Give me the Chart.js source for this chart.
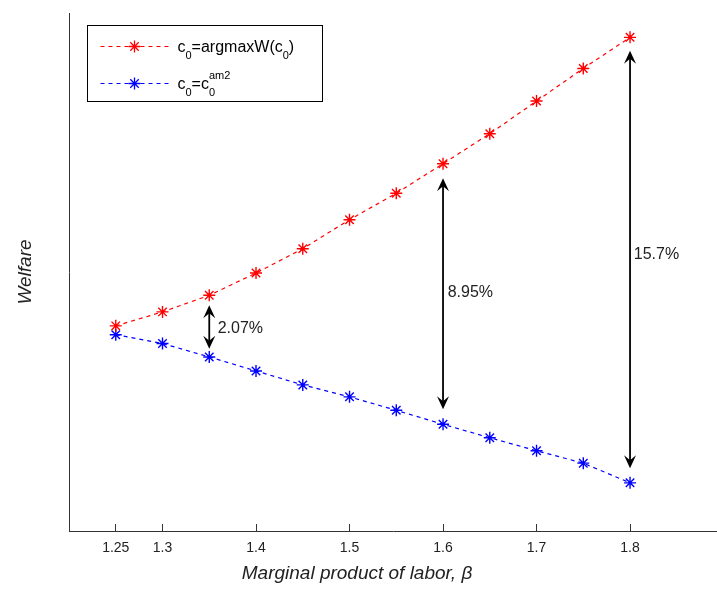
<!DOCTYPE html>
<html><head><meta charset="utf-8">
<script src="https://cdn.jsdelivr.net/npm/chart.js@4.4.1/dist/chart.umd.min.js"></script>
<style>html,body{margin:0;padding:0;background:#fff;overflow:hidden;} #wrap{width:717px;height:589px;} canvas{display:block;}</style>
</head><body><div id="wrap"><canvas id="c" width="717" height="589"></canvas></div>
<script>
// ---- data ----
const beta = [1.25, 1.3, 1.35, 1.4, 1.45, 1.5, 1.55, 1.6, 1.65, 1.7, 1.75, 1.8];
const welfareArgmax = [39.6, 42.3, 45.5, 49.8, 54.5, 60.1, 65.2, 70.9, 76.7, 83.0, 89.3, 95.3];
const welfareAm2 = [37.9, 36.2, 33.6, 30.9, 28.2, 25.9, 23.3, 20.6, 18.0, 15.5, 13.1, 9.3];
const xTickValues = [1.25, 1.3, 1.4, 1.5, 1.6, 1.7, 1.8];
const gapBeta = [1.35, 1.6, 1.8];
const gapUpper = [43.6, 68.1, 92.7];
const gapLower = [35.2, 23.5, 12.1];
const gapText = ['2.07%', '8.95%', '15.7%'];
const gapTextBeta = [1.359, 1.605, 1.804];
const gapTextY = [39.0, 46.0, 53.4];
const xTitle = 'Marginal product of labor, \u03B2';
const yTitle = 'Welfare';

const FONT = "'Liberation Sans', Arial, sans-serif";

function drawStar(ctx, x, y, r, color) {
  ctx.save();
  ctx.strokeStyle = color; ctx.lineWidth = 1.3; ctx.setLineDash([]);
  ctx.beginPath();
  ctx.moveTo(x - r, y); ctx.lineTo(x + r, y);
  ctx.moveTo(x, y - r); ctx.lineTo(x, y + r);
  const d = r * Math.SQRT1_2;
  ctx.moveTo(x - d, y - d); ctx.lineTo(x + d, y + d);
  ctx.moveTo(x - d, y + d); ctx.lineTo(x + d, y - d);
  ctx.stroke();
  ctx.restore();
}

function arrowHead(ctx, x, y, dir) { // dir: -1 pointing up, +1 pointing down
  const L = 13, W = 6, N = 8;
  ctx.beginPath();
  ctx.moveTo(x, y);
  ctx.lineTo(x - W, y - dir * L);
  ctx.lineTo(x, y - dir * N);
  ctx.lineTo(x + W, y - dir * L);
  ctx.closePath();
  ctx.fill();
}

const annotPlugin = {
  id: 'annot',
  afterDatasetsDraw(chart) {
    const ctx = chart.ctx;
    const xs = chart.scales.x, ys = chart.scales.y;
    const a = chart.chartArea;
    ctx.save();
    ctx.strokeStyle = '#000'; ctx.fillStyle = '#000'; ctx.lineWidth = 1.8;
    for (let i = 0; i < gapBeta.length; i++) {
      const x = xs.getPixelForValue(gapBeta[i]);
      const yt = ys.getPixelForValue(gapUpper[i]);
      const yb = ys.getPixelForValue(gapLower[i]);
      ctx.beginPath(); ctx.moveTo(x, yt + 6); ctx.lineTo(x, yb - 6); ctx.stroke();
      arrowHead(ctx, x, yt, -1);
      arrowHead(ctx, x, yb, 1);
      ctx.font = '16px ' + FONT; ctx.fillStyle = '#222';
      ctx.textAlign = 'left'; ctx.textBaseline = 'middle';
      ctx.fillText(gapText[i], xs.getPixelForValue(gapTextBeta[i]), ys.getPixelForValue(gapTextY[i]));
      ctx.fillStyle = '#000';
    }
    ctx.restore();

    // axis titles
    ctx.save();
    ctx.fillStyle = '#222';
    ctx.font = 'italic 19px ' + FONT;
    ctx.textAlign = 'center'; ctx.textBaseline = 'middle';
    ctx.fillText(xTitle, a.left + 288, 574);
    ctx.translate(26, (a.top + a.bottom) / 2);
    ctx.rotate(-Math.PI / 2);
    ctx.fillText(yTitle, 0, 0);
    ctx.restore();

    // legend
    const bx = a.left + 18.5, by = a.top + 12.5, bw = 235, bh = 76;
    ctx.save();
    ctx.fillStyle = '#fff'; ctx.fillRect(bx, by, bw, bh);
    ctx.strokeStyle = '#000'; ctx.lineWidth = 1; ctx.strokeRect(bx, by, bw, bh);
    const rows = [
      { y: by + 21, color: '#ff0000' },
      { y: by + 58, color: '#0000ff' }
    ];
    rows.forEach(r => {
      ctx.strokeStyle = r.color; ctx.lineWidth = 1.2; ctx.setLineDash([4, 4]);
      ctx.beginPath(); ctx.moveTo(bx + 13, r.y); ctx.lineTo(bx + 83, r.y); ctx.stroke();
      ctx.setLineDash([]);
      drawStar(ctx, bx + 47, r.y, 6, r.color);
    });
    ctx.fillStyle = '#000'; ctx.textAlign = 'left'; ctx.textBaseline = 'alphabetic';
    const big = '16px ' + FONT, small = '11px ' + FONT;
    function seg(parts, x0, base) {
      let x = x0;
      parts.forEach(p => {
        if (p.stack) {
          ctx.font = small;
          const w1 = ctx.measureText(p.sub).width, w2 = ctx.measureText(p.sup).width;
          ctx.fillText(p.sub, x, base + 6.5);
          ctx.fillText(p.sup, x, base - 10);
          x += Math.max(w1, w2);
        } else {
          ctx.font = p.sub ? small : big;
          ctx.fillText(p.t, x, p.sub ? base + 6.5 : base);
          x += ctx.measureText(p.t).width;
        }
      });
    }
    const tx = bx + 90;
    seg([{t:'c'},{t:'0',sub:true},{t:'=argmaxW(c'},{t:'0',sub:true},{t:')'}], tx, rows[0].y + 5.5);
    seg([{t:'c'},{t:'0',sub:true},{t:'=c'},{stack:true, sub:'0', sup:'am2'}], tx, rows[1].y + 5.5);
    ctx.restore();
  }
};

new Chart(document.getElementById('c'), {
  type: 'line',
  data: {
    datasets: [
      {
        label: 'c0=argmaxW(c0)',
        data: beta.map((b, i) => ({ x: b, y: welfareArgmax[i] })),
        borderColor: '#ff0000', backgroundColor: '#ff0000',
        borderWidth: 1.2, borderDash: [4, 4],
        pointStyle: 'star', pointRadius: 6, pointBorderWidth: 1.4,
        pointBorderColor: '#ff0000', tension: 0
      },
      {
        label: 'c0=c0^am2',
        data: beta.map((b, i) => ({ x: b, y: welfareAm2[i] })),
        borderColor: '#0000ff', backgroundColor: '#0000ff',
        borderWidth: 1.2, borderDash: [4, 4],
        pointStyle: 'star', pointRadius: 6, pointBorderWidth: 1.4,
        pointBorderColor: '#0000ff', tension: 0
      }
    ]
  },
  options: {
    responsive: false, animation: false, devicePixelRatio: 1,
    layout: { autoPadding: false, padding: { top: 13, left: 0, right: 0, bottom: 0 } },
    plugins: { legend: { display: false }, tooltip: { enabled: false } },
    scales: {
      x: {
        type: 'linear', min: 1.2, max: 1.893,
        afterBuildTicks: s => { s.ticks = xTickValues.map(v => ({ value: v })); },
        afterFit: s => { s.height = 58; s.paddingLeft = 0; s.paddingRight = 0; },
        ticks: { autoSkip: false, maxRotation: 0, padding: 15.6, color: '#222',
          font: { family: FONT, size: 14 }, callback: v => String(v) },
        grid: { display: true, drawOnChartArea: false, drawTicks: true, tickLength: -7, color: '#333', lineWidth: 1 },
        border: { display: true, color: '#333', width: 1 },
        title: { display: false }
      },
      y: {
        min: 0, max: 100,
        afterFit: s => { s.width = 69; s.paddingTop = 0; s.paddingBottom = 0; },
        ticks: { display: false },
        grid: { display: false, drawTicks: false },
        border: { display: true, color: '#333', width: 1 },
        title: { display: false }
      }
    }
  },
  plugins: [annotPlugin]
});
</script>
</body></html>
